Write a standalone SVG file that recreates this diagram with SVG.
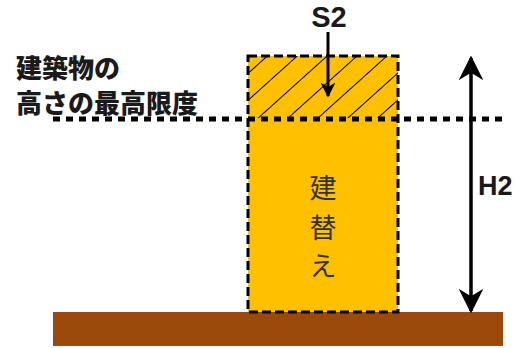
<svg xmlns="http://www.w3.org/2000/svg" width="515" height="348" viewBox="0 0 515 348">
<style>
.lbl{font-family:"Noto Sans CJK JP","Liberation Sans",sans-serif;font-weight:900;fill:#1a1a1a}
.en{font-family:"Liberation Sans",Arial,sans-serif;font-weight:bold;fill:#1a1a1a}
.v{font-family:"Noto Sans CJK JP",sans-serif;font-weight:normal;fill:#333;font-size:27px}
</style>
<defs>
<pattern id="hatch" patternUnits="userSpaceOnUse" width="20" height="20" patternTransform="rotate(-42)">
<line x1="0" y1="0" x2="20" y2="0" stroke="#000" stroke-width="2"/>
</pattern>
<marker id="ah" viewBox="0 0 10 10" refX="9" refY="5" markerWidth="7" markerHeight="7" orient="auto-start-reverse" markerUnits="strokeWidth">
<path d="M0,0 L10,5 L0,10 L3,5 Z" fill="#000"/>
</marker>
<marker id="ah2" viewBox="0 0 10 10" refX="9" refY="5" markerWidth="5" markerHeight="5" orient="auto" markerUnits="strokeWidth">
<path d="M0,0 L10,5 L0,10 L3,5 Z" fill="#000"/>
</marker>
</defs>
<g id="ground"><rect x="53" y="312" width="450" height="34" fill="#9B4A0C"/></g>
<g id="building">
<rect x="248" y="56" width="150" height="256" fill="#FFC000"/>
<rect x="248" y="56" width="150" height="62" fill="url(#hatch)"/>
<rect x="248" y="56" width="150" height="256" fill="none" stroke="#000" stroke-width="3" stroke-dasharray="9,4"/>
<text class="v" x="323" y="198" text-anchor="middle">建</text>
<text class="v" x="323" y="238" text-anchor="middle">替</text>
<text class="v" x="323" y="276" text-anchor="middle">え</text>
</g>
<g id="limit-label">
<text class="lbl" x="16" y="78" font-size="26">建築物の</text>
<text class="lbl" x="16" y="113" font-size="26">高さの最高限度</text>
</g>
<g id="s2"><text class="en" x="329" y="27" font-size="29" text-anchor="middle">S2</text></g>
<g id="h2"><text class="en" x="478" y="195" font-size="27">H2</text></g>
<g id="connectors">
<line x1="53" y1="119" x2="503" y2="119" stroke="#000" stroke-width="5" stroke-dasharray="7,6"/>
<line x1="328" y1="32" x2="328" y2="96" stroke="#000" stroke-width="3" marker-end="url(#ah2)"/>
<line x1="471" y1="58" x2="471" y2="311" stroke="#000" stroke-width="3.5" marker-start="url(#ah)" marker-end="url(#ah)"/>
</g>
</svg>
